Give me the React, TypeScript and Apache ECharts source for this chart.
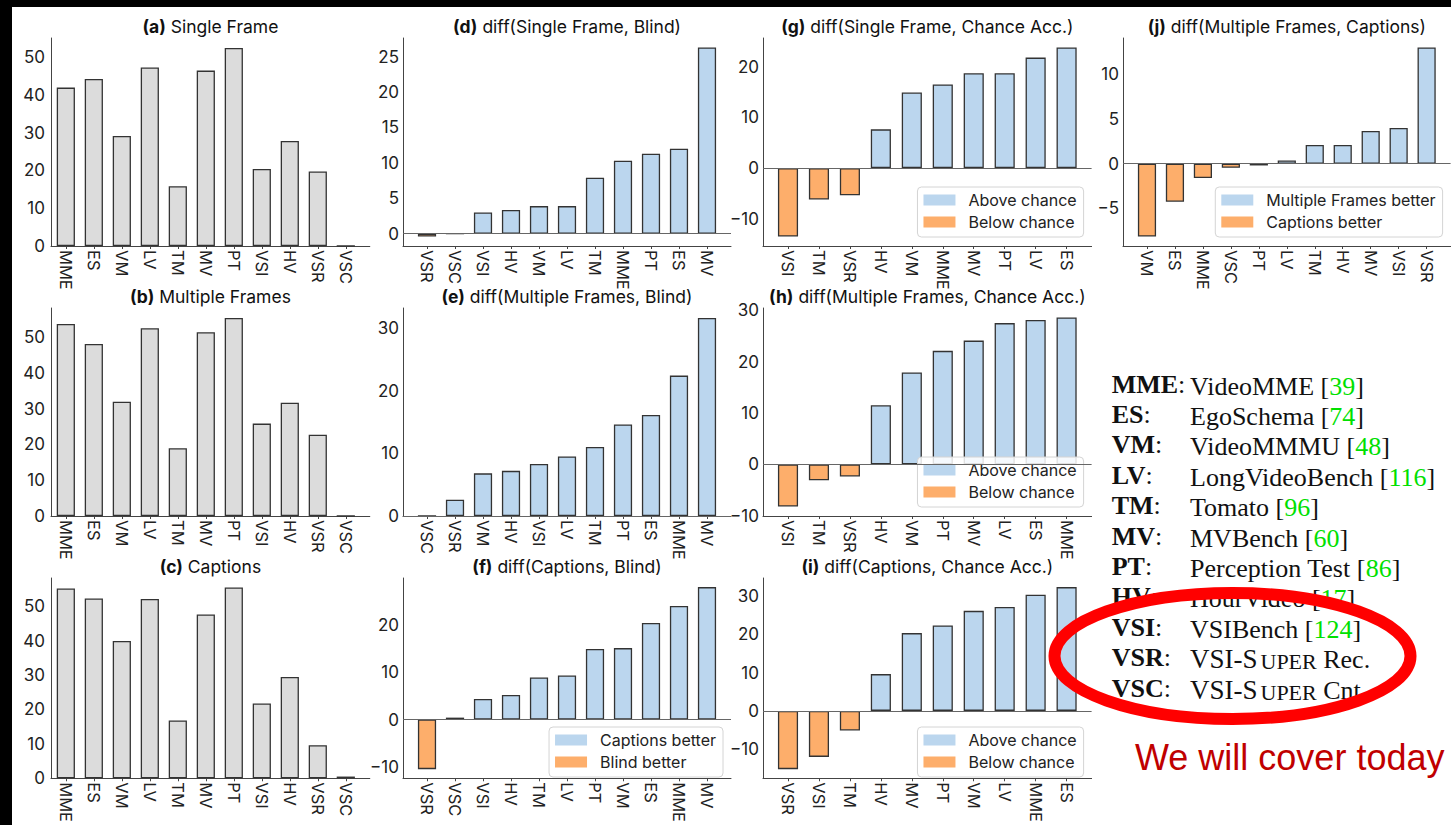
import React, { useEffect, useRef } from "react";
import * as echarts from "echarts";

// ---------- data ----------
const CATS_ABC = ["MME", "ES", "VM", "LV", "TM", "MV", "PT", "VSI", "HV", "VSR", "VSC"];
const SINGLE_FRAME = [41.9, 44.2, 29.1, 47.2, 15.8, 46.4, 52.4, 20.4, 27.8, 19.7, 0];
const MULTIPLE_FRAMES = [53.6, 48.0, 31.9, 52.4, 18.9, 51.3, 55.3, 25.8, 31.6, 22.7, 0];
const CAPTIONS = [55.1, 52.2, 39.9, 52.1, 16.8, 47.6, 55.4, 21.7, 29.4, 9.6, 0.5];

const CATS_D = ["VSR", "VSC", "VSI", "HV", "VM", "LV", "TM", "MME", "PT", "ES", "MV"];
const DIFF_SF_BLIND = [-0.4, 0, 3.0, 3.35, 3.9, 3.9, 7.9, 10.3, 11.3, 12.0, 26.3];
const CATS_E = ["VSC", "VSR", "VM", "HV", "VSI", "LV", "TM", "PT", "ES", "MME", "MV"];
const DIFF_MF_BLIND = [0, 2.6, 6.8, 7.2, 8.3, 9.5, 11.0, 14.6, 16.1, 22.4, 31.6];
const CATS_F = ["VSR", "VSC", "VSI", "HV", "TM", "LV", "PT", "VM", "ES", "MME", "MV"];
const DIFF_CAP_BLIND = [-10.5, 0.4, 4.35, 5.2, 8.9, 9.3, 14.9, 15.1, 20.4, 24.0, 28.0];
const CATS_G = ["VSI", "TM", "VSR", "HV", "VM", "MME", "MV", "PT", "LV", "ES"];
const DIFF_SF_CHANCE = [-13.5, -6.2, -5.35, 7.65, 14.9, 16.5, 18.7, 18.7, 21.8, 23.8];
const CATS_H = ["VSI", "TM", "VSR", "HV", "VM", "PT", "MV", "LV", "ES", "MME"];
const DIFF_MF_CHANCE = [-8.2, -3.1, -2.35, 11.5, 17.9, 22.1, 24.1, 27.5, 28.1, 28.6];
const CATS_I = ["VSR", "VSI", "TM", "HV", "MV", "PT", "VM", "LV", "MME", "ES"];
const DIFF_CAP_CHANCE = [-15.2, -12.0, -5.1, 9.6, 20.3, 22.3, 26.1, 27.1, 30.3, 32.3];
const CATS_J = ["VM", "ES", "MME", "VSC", "PT", "LV", "TM", "HV", "MV", "VSI", "VSR"];
const DIFF_MF_CAP = [-8.15, -4.25, -1.6, -0.45, -0.2, 0.35, 2.1, 2.1, 3.65, 4.0, 13.0];

const TICKS_ABC = [0, 10, 20, 30, 40, 50];
const TICKS_D = [0, 5, 10, 15, 20, 25];
const TICKS_E = [0, 10, 20, 30];
const TICKS_F = [-10, 0, 10, 20, 30];
const TICKS_G = [-10, 0, 10, 20];
const TICKS_H = [-10, 0, 10, 20, 30];
const TICKS_I = [-10, 0, 10, 20, 30];
const TICKS_J = [-5, 0, 5, 10];

const ABBR = ["MME", "ES", "VM", "LV", "TM", "MV", "PT", "HV", "VSI", "VSR", "VSC"];
const FULL_NAMES = ["VideoMME", "EgoSchema", "VideoMMMU", "LongVideoBench", "Tomato", "MVBench",
  "Perception Test", "HourVideo", "VSIBench", "VSI-SUPER Rec.", "VSI-SUPER Cnt."];
const CITES = ["39", "74", "48", "116", "96", "60", "86", "17", "124", "", ""];
const NOTE = "We will cover today";

// ---------- panel definitions ----------
type Panel = {
  letter: string; title: string; cats: string[]; vals: number[]; ticks: number[];
  col: number; row: number; diff: boolean; legend?: [string, string]; names?: [string, string];
};
const PANELS: Panel[] = [
  { letter: "(a)", title: "Single Frame", cats: CATS_ABC, vals: SINGLE_FRAME, ticks: TICKS_ABC, col: 0, row: 0, diff: false },
  { letter: "(b)", title: "Multiple Frames", cats: CATS_ABC, vals: MULTIPLE_FRAMES, ticks: TICKS_ABC, col: 0, row: 1, diff: false },
  { letter: "(c)", title: "Captions", cats: CATS_ABC, vals: CAPTIONS, ticks: TICKS_ABC, col: 0, row: 2, diff: false },
  { letter: "(d)", title: "diff(Single Frame, Blind)", cats: CATS_D, vals: DIFF_SF_BLIND, ticks: TICKS_D, col: 1, row: 0, diff: true, names: ["Single Frame better", "Blind better (SF)"] },
  { letter: "(e)", title: "diff(Multiple Frames, Blind)", cats: CATS_E, vals: DIFF_MF_BLIND, ticks: TICKS_E, col: 1, row: 1, diff: true, names: ["Multiple Frames better (B)", "Blind better (MF)"] },
  { letter: "(f)", title: "diff(Captions, Blind)", cats: CATS_F, vals: DIFF_CAP_BLIND, ticks: TICKS_F, col: 1, row: 2, diff: true, names: ["Captions better", "Blind better"], legend: ["Captions better", "Blind better"] },
  { letter: "(g)", title: "diff(Single Frame, Chance Acc.)", cats: CATS_G, vals: DIFF_SF_CHANCE, ticks: TICKS_G, col: 2, row: 0, diff: true, names: ["Above chance", "Below chance"], legend: ["Above chance", "Below chance"] },
  { letter: "(h)", title: "diff(Multiple Frames, Chance Acc.)", cats: CATS_H, vals: DIFF_MF_CHANCE, ticks: TICKS_H, col: 2, row: 1, diff: true, names: ["Above chance", "Below chance"], legend: ["Above chance", "Below chance"] },
  { letter: "(i)", title: "diff(Captions, Chance Acc.)", cats: CATS_I, vals: DIFF_CAP_CHANCE, ticks: TICKS_I, col: 2, row: 2, diff: true, names: ["Above chance", "Below chance"], legend: ["Above chance", "Below chance"] },
  { letter: "(j)", title: "diff(Multiple Frames, Captions)", cats: CATS_J, vals: DIFF_MF_CAP, ticks: TICKS_J, col: 3, row: 0, diff: true, names: ["Multiple Frames better", "Captions better (MF)"], legend: ["Multiple Frames better", "Captions better"] },
];

// ---------- layout / style ----------
const W = 1451, H = 825;
const COL_LEFT = [51, 403, 763, 1123];
const COL_RIGHT = [369.8, 731, 1091.6, 1450.6];
const ROW_TOP = [38, 308, 578];
const GRID_H = 208;
const LABEL_MARGIN = [6, 4, 4, 4];
const FONT = "Inter, 'DejaVu Sans', sans-serif";
const SERIF = "'Liberation Serif', 'DejaVu Serif', serif";
const GRAY = "#dcdcdc";
const BLUE = "#bbd6ee";
const ORANGE = "#fdae6b";
const EDGE = "#333333";
const AXIS = "#444444";
const TITLE_SIZE = 17.5;
const TICK_SIZE = 17;
const XLABEL_SIZE = 16.5;

function yRange(vals: number[]): [number, number] {
  const lo = Math.min(0, ...vals), hi = Math.max(0, ...vals);
  const m = 0.05 * (hi - lo);
  return [lo < 0 ? lo - m : 0, hi > 0 ? hi + m : 0];
}
const fmtNum = (v: number) => (v < 0 ? "\u2212" + Math.abs(v) : String(v));
const isInt = (v: number) => Math.abs(v - Math.round(v)) < 1e-6;

function buildOption() {
  const grid: any[] = [], xAxis: any[] = [], yAxis: any[] = [], series: any[] = [], legend: any[] = [], graphic: any[] = [];

  PANELS.forEach((p, k) => {
    const left = COL_LEFT[p.col], right = COL_RIGHT[p.col], top = ROW_TOP[p.row];
    const n = p.cats.length;
    const pad = 0.325 + 0.05 * (n - 1 + 0.65);
    const xmin = p.col === 0 ? -0.53 : -pad, xmax = n - 1 + pad;
    const band = (right - left) / (xmax - xmin);
    const barWidth = 0.65 * band;
    const [ymin, ymax] = yRange(p.vals);
    const idx = p.cats.map((_, i) => i);
    const step = p.ticks[1] - p.ticks[0];

    grid.push({ left, top, width: right - left, height: GRID_H, containLabel: false });
    xAxis.push({
      type: "value", gridIndex: k, min: xmin, max: xmax, minInterval: 1, maxInterval: 1,
      axisLine: { show: true, onZero: false, lineStyle: { color: AXIS, width: 1 } },
      axisTick: { show: true, length: 3, customValues: idx, lineStyle: { color: AXIS } },
      axisLabel: {
        customValues: idx, rotate: -90, margin: 4, fontFamily: FONT, fontSize: XLABEL_SIZE, color: "#222",
        formatter: (v: number) => (isInt(v) ? p.cats[Math.round(v)] ?? "" : ""),
      },
      splitLine: { show: false },
    });
    yAxis.push({
      type: "value", gridIndex: k, min: ymin, max: ymax, minInterval: step, maxInterval: step,
      axisLine: { show: true, onZero: false, lineStyle: { color: AXIS, width: 1 } },
      axisTick: { show: false },
      axisLabel: {
        customValues: p.ticks, margin: LABEL_MARGIN[p.col], fontFamily: FONT, fontSize: TICK_SIZE, color: "#222",
        formatter: (v: number) => (p.ticks.some((t) => Math.abs(t - v) < 1e-6) ? fmtNum(Math.round(v)) : ""),
      },
      splitLine: { show: false },
    });

    if (!p.diff) {
      series.push({
        type: "bar", name: p.title, xAxisIndex: k, yAxisIndex: k, silent: true, barWidth,
        data: p.vals.map((v, i) => [i, v]),
        itemStyle: { color: GRAY, borderColor: EDGE, borderWidth: 1.3 },
      });
    } else {
      const names = p.names as [string, string];
      series.push({
        type: "bar", name: names[0], xAxisIndex: k, yAxisIndex: k, silent: true, barWidth, barGap: "-100%",
        data: p.vals.map((v, i) => (v >= 0 ? [i, v] : null)).filter((d) => d !== null),
        itemStyle: { color: BLUE, borderColor: EDGE, borderWidth: 1.3 },
        markLine: {
          silent: true, symbol: "none", label: { show: false },
          lineStyle: { color: "#666", width: 1.2, type: "solid" },
          data: [{ yAxis: 0 }],
        },
      });
      series.push({
        type: "bar", name: names[1], xAxisIndex: k, yAxisIndex: k, silent: true, barWidth, barGap: "-100%",
        data: p.vals.map((v, i) => (v < 0 ? [i, v] : null)).filter((d) => d !== null),
        itemStyle: { color: ORANGE, borderColor: EDGE, borderWidth: 1.3 },
      });
      if (p.legend) {
        legend.push({
          orient: "vertical", right: W - (right - 8), top: top + GRID_H - 8 - 51,
          selectedMode: false, icon: "rect", itemWidth: 32, itemHeight: 11, itemGap: 6,
          padding: [5, 7, 7, 6], backgroundColor: "rgba(255,255,255,0.85)",
          borderColor: "#d4d4d4", borderWidth: 1, borderRadius: 4,
          textStyle: { fontFamily: FONT, fontSize: 16, color: "#222", lineHeight: 16, padding: [0, 0, 0, 8] },
          itemStyle: { borderWidth: 0 },
          data: [
            { name: p.legend[0], itemStyle: { color: BLUE, borderWidth: 0 } },
            { name: p.legend[1], itemStyle: { color: ORANGE, borderWidth: 0 } },
          ],
        });
      }
    }

    graphic.push({
      type: "text", x: (left + right) / 2, y: top - 12, silent: true,
      style: {
        text: `{b|${p.letter}}{n| ${p.title}}`, align: "center", verticalAlign: "middle",
        rich: {
          b: { fontFamily: FONT, fontSize: TITLE_SIZE, fontWeight: "bold", fill: "#111" },
          n: { fontFamily: FONT, fontSize: TITLE_SIZE, fill: "#111" },
        },
      },
    });
  });

  // black frame strips
  graphic.push({ type: "rect", shape: { x: 0, y: 0, width: W, height: 7 }, style: { fill: "#000" }, silent: true });
  graphic.push({ type: "rect", shape: { x: 0, y: 0, width: 12, height: H }, style: { fill: "#000" }, silent: true });

  // benchmark key
  ABBR.forEach((a, i) => {
    const y = 384 + 30.4 * i;
    graphic.push({
      type: "text", x: 1111.7, y, silent: true,
      style: {
        text: `{b|${a}}{c|:}`, verticalAlign: "middle",
        rich: {
          b: { fontFamily: SERIF, fontSize: 26, fontWeight: "bold", fill: "#111" },
          c: { fontFamily: SERIF, fontSize: 26, fill: "#111" },
        },
      },
    });
    const name = FULL_NAMES[i];
    let txt: string;
    if (name.startsWith("VSI-SUPER")) {
      txt = `{sc|VSI-S}{sm|UPER}{v|${name.slice(9)}}`;
    } else {
      txt = `{v|${name} [}{g|${CITES[i]}}{v|]}`;
    }
    graphic.push({
      type: "text", x: 1190, y, silent: true,
      style: {
        text: txt, verticalAlign: "middle",
        rich: {
          v: { fontFamily: SERIF, fontSize: 26, fill: "#111", verticalAlign: "bottom", lineHeight: 30 },
          g: { fontFamily: SERIF, fontSize: 26, fill: "#00e000", verticalAlign: "bottom", lineHeight: 30 },
          sc: { fontFamily: SERIF, fontSize: 27, fill: "#111", verticalAlign: "bottom", lineHeight: 30, padding: [0, 3, 0, 0] },
          sm: { fontFamily: SERIF, fontSize: 22, fill: "#111", verticalAlign: "bottom", lineHeight: 26, padding: [0, 0, 0, 0] },
        },
      },
    });
  });

  graphic.push({
    type: "ellipse", silent: true, z: 100,
    shape: { cx: 1232.5, cy: 656, rx: 178, ry: 63 },
    style: { fill: "none", stroke: "#ff0000", lineWidth: 12 },
  });
  graphic.push({
    type: "text", x: 1135, y: 757, silent: true,
    style: { text: NOTE, fontFamily: "'Liberation Sans', Arial, sans-serif", fontSize: 36, fill: "#c00000", verticalAlign: "middle" },
  });

  return {
    animation: false,
    backgroundColor: "#ffffff",
    grid, xAxis, yAxis, series, legend, graphic,
  };
}

export default function App() {
  const ref = useRef<HTMLDivElement>(null);
  useEffect(() => {
    if (!ref.current) return;
    const chart = echarts.init(ref.current, null, { renderer: "svg", width: W, height: H });
    chart.setOption(buildOption() as any);
    return () => chart.dispose();
  }, []);
  return (
    <div
      ref={ref}
      style={{ position: "fixed", left: 0, top: 0, width: W, height: H, background: "#fff" }}
    />
  );
}
